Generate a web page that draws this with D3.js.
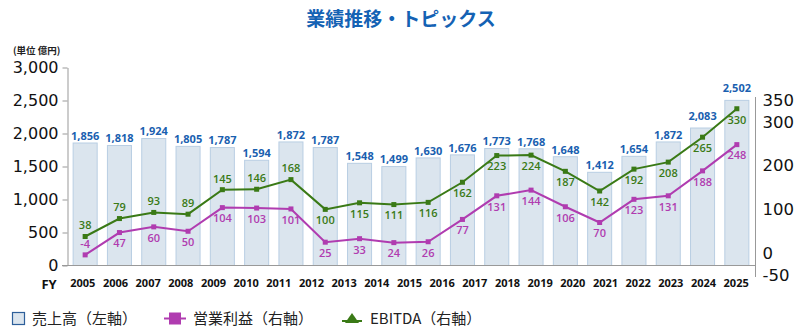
<!DOCTYPE html>
<html>
<head>
<meta charset="utf-8">
<script src="https://cdn.jsdelivr.net/npm/d3@7"></script>
<style>
  body { margin: 0; background: #fff; }
  svg { display: block; }
</style>
</head>
<body>
<div id="chart-area"></div>
<script>
// data
var years = ["2005","2006","2007","2008","2009","2010","2011","2012","2013","2014",
             "2015","2016","2017","2018","2019","2020","2021","2022","2023","2024","2025"];
var sales = [1856,1818,1924,1805,1787,1594,1872,1787,1548,1499,
             1630,1676,1773,1768,1648,1412,1654,1872,2083,2502];
var opProfit = [-4,47,60,50,104,103,101,25,33,24,26,77,131,144,106,70,123,131,188,248];
var ebitda = [38,79,93,89,145,146,168,100,115,111,116,162,223,224,187,142,192,208,265,330];
var leftTicks = [0,500,1000,1500,2000,2500,3000];
var rightTicks = [-50,0,100,200,300,350];

var width = 796, height = 329;
var blue = "#1a5fb0", green = "#3a7a16", purple = "#b03cb0";

var svg = d3.select("#chart-area").append("svg")
    .attr("width", width)
    .attr("height", height);

var x = d3.scaleBand()
    .domain(d3.range(sales.length))
    .range([68, 754])
    .paddingInner(0.27)
    .paddingOuter(0.135);

var xYear = d3.scaleBand()
    .domain(years)
    .range([66.5, 752.5]);

var yL = d3.scaleLinear().domain([0, 3000]).range([265.5, 67.5]);
var yR = d3.scaleLinear().domain([-50, 350]).range([275, 100]);

function cx(d, i) { return x(i) + x.bandwidth() / 2; }

// title
svg.append("text")
    .attr("x", 401).attr("y", 26)
    .attr("text-anchor", "middle")
    .attr("font-family", "Noto Sans CJK JP")
    .attr("font-weight", "bold")
    .attr("font-size", 19)
    .attr("fill", "#1462b4")
    .text("業績推移・トピックス");

svg.append("text")
    .attr("x", 13).attr("y", 54)
    .attr("font-family", "Noto Sans CJK JP")
    .attr("font-weight", "bold")
    .attr("font-size", 9.5)
    .attr("fill", "#222")
    .text("(単位 億円)");

// bars
svg.append("g").selectAll("rect")
    .data(sales)
    .enter().append("rect")
    .attr("x", function(d, i) { return x(i) + 0.5; })
    .attr("y", function(d) { return yL(d); })
    .attr("width", x.bandwidth() - 1)
    .attr("height", function(d) { return yL(0) - yL(d); })
    .attr("fill", "#dbe5ee")
    .attr("stroke", "#b9cee3")
    .attr("stroke-width", 1);

// left axis
var gL = svg.append("g")
    .attr("transform", "translate(67.5,0)")
    .call(d3.axisLeft(yL).tickValues(leftTicks).tickSize(5).tickSizeOuter(0)
        .tickPadding(4).tickFormat(d3.format(",")));
gL.select(".domain").attr("stroke", "#999");
gL.selectAll(".tick line").attr("stroke", "#999");
gL.selectAll("text")
    .attr("font-family", "DejaVu Sans")
    .attr("font-size", 16)
    .attr("fill", "#111");

// right axis
var gR = svg.append("g")
    .attr("transform", "translate(755.5,0)")
    .call(d3.axisRight(yR).tickValues(rightTicks).tickSize(0).tickPadding(7)
        .tickFormat(function(d) { return String(d); }));
gR.select(".domain").remove();
gR.append("line")
    .attr("y1", 97).attr("y2", 277)
    .attr("stroke", "#999");
gR.selectAll("text")
    .attr("font-family", "DejaVu Sans")
    .attr("font-size", 16.5)
    .attr("fill", "#111");

// bottom line and years
svg.append("line")
    .attr("x1", 62).attr("x2", 755.5)
    .attr("y1", 265.5).attr("y2", 265.5)
    .attr("stroke", "#999");

svg.append("g").selectAll("text")
    .data(years)
    .enter().append("text")
    .attr("x", function(d) { return xYear(d) + xYear.bandwidth() / 2; })
    .attr("y", 283.5)
    .attr("dy", "0.35em")
    .attr("text-anchor", "middle")
    .attr("font-family", "Open Sans")
    .attr("font-weight", "bold")
    .attr("font-size", 11)
    .attr("fill", "#111")
    .text(function(d) { return d; });

svg.append("text")
    .attr("x", 49).attr("y", 284.5)
    .attr("dy", "0.35em")
    .attr("text-anchor", "middle")
    .attr("font-family", "Open Sans")
    .attr("font-weight", "bold")
    .attr("font-size", 13)
    .attr("fill", "#111")
    .text("FY");

// bar value labels (last two lifted clear of the EBITDA line)
svg.append("g").selectAll("text")
    .data(sales)
    .enter().append("text")
    .attr("x", cx)
    .attr("y", function(d, i) { return yL(d) - (i >= 18 ? 12 : 7); })
    .attr("dy", "0.35em")
    .attr("text-anchor", "middle")
    .attr("font-family", "Open Sans")
    .attr("font-weight", "bold")
    .attr("font-size", 11)
    .attr("fill", blue)
    .text(function(d) { return d3.format(",")(d); });

// lines
var line = d3.line()
    .x(cx)
    .y(function(d) { return yR(d); });

function drawSeries(data, color, above) {
    var g = svg.append("g");
    g.append("path")
        .datum(data)
        .attr("d", line)
        .attr("fill", "none")
        .attr("stroke", color)
        .attr("stroke-width", 2);
    g.selectAll("rect")
        .data(data)
        .enter().append("rect")
        .attr("x", function(d, i) { return cx(d, i) - 2.5; })
        .attr("y", function(d) { return yR(d) - 2.5; })
        .attr("width", 5)
        .attr("height", 5)
        .attr("fill", color);
    g.selectAll("text")
        .data(data)
        .enter().append("text")
        .attr("x", cx)
        .attr("y", function(d, i) { return yR(d) + (above(d, i) ? -11 : 11); })
        .attr("dy", "0.35em")
        .attr("text-anchor", "middle")
        .attr("font-family", "Open Sans")
        .attr("font-weight", 600)
        .attr("font-size", 11)
        .attr("fill", color)
        .text(function(d) { return d; });
}

drawSeries(ebitda, green, function(d, i) { return i < 7; });
drawSeries(opProfit, purple, function(d, i) { return i === 0; });

// legend
var legend = svg.append("g")
    .attr("font-family", "Noto Sans CJK JP")
    .attr("font-size", 15)
    .attr("fill", "#222");

legend.append("rect")
    .attr("x", 12.5).attr("y", 312.5)
    .attr("width", 12).attr("height", 12)
    .attr("fill", "#dbe5ee")
    .attr("stroke", "#2d5f9a")
    .attr("stroke-width", 1.2);
legend.append("text")
    .attr("x", 32).attr("y", 318.5).attr("dy", "0.35em")
    .text("売上高（左軸）");

legend.append("line")
    .attr("x1", 164).attr("x2", 186)
    .attr("y1", 318.5).attr("y2", 318.5)
    .attr("stroke", purple).attr("stroke-width", 2);
legend.append("rect")
    .attr("x", 169).attr("y", 312.5)
    .attr("width", 12).attr("height", 12)
    .attr("fill", purple);
legend.append("text")
    .attr("x", 193).attr("y", 318.5).attr("dy", "0.35em")
    .text("営業利益（右軸）");

legend.append("line")
    .attr("x1", 342).attr("x2", 362)
    .attr("y1", 321).attr("y2", 321)
    .attr("stroke", green).attr("stroke-width", 2);
legend.append("path")
    .attr("d", "M345,323 L352,313 L359,323 Z")
    .attr("fill", green);
legend.append("text")
    .attr("x", 370).attr("y", 318.5).attr("dy", "0.35em")
    .text("EBITDA（右軸）");
</script>
</body>
</html>
